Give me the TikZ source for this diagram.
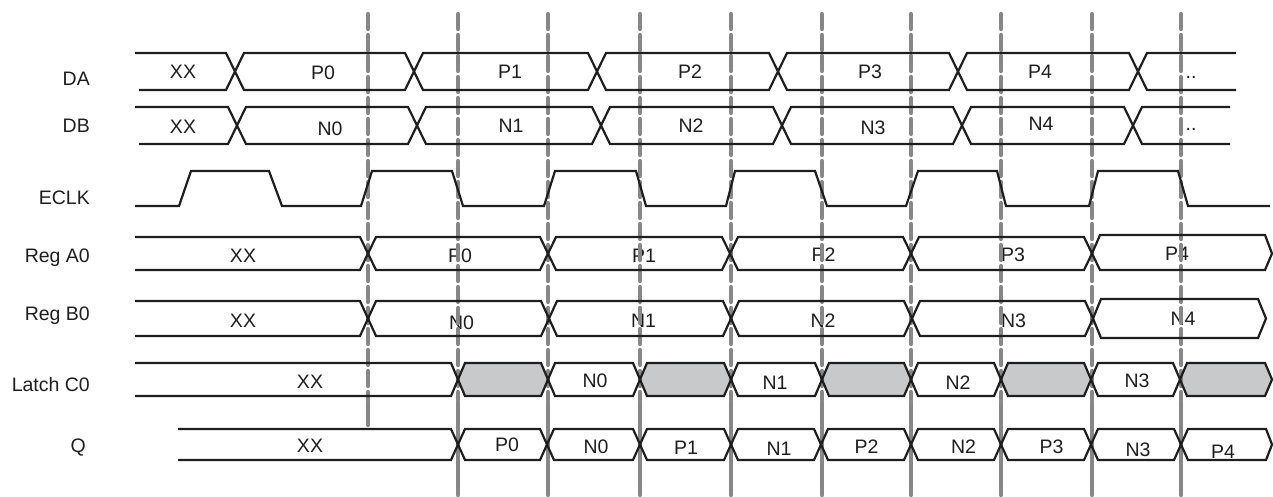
\documentclass[tikz,border=0pt]{standalone}
\usepackage{fontspec}
\setmainfont{Liberation Sans}
\definecolor{vgray}{RGB}{135,135,135}
\definecolor{latchgray}{RGB}{200,201,203}
\definecolor{ink}{RGB}{30,30,30}
\tikzset{
  sig/.style={line width=2.2pt, line join=miter, draw=ink},
  vline/.style={line width=4.3pt, draw=vgray, line cap=round},
  lbl/.style={inner sep=0pt, text height=14pt, text depth=0pt, text=ink,
              font=\fontsize{19.5}{22}\selectfont},
  rowlbl/.style={lbl, anchor=east}
}
\begin{document}
\begin{tikzpicture}[x=1pt,y=-1pt]
\path[use as bounding box] (0,0) rectangle (1273,497);

% ---------- shaded latch segments (fill) ----------
\def\T{363}\def\B{396}\def\M{379.5}\def\h{7}
\foreach \a/\b in {458/548,640/731,822/911,1001/1091}
  \fill[latchgray] (\a,\M) -- ({\a+\h},\T) -- ({\b-\h},\T) -- (\b,\M) -- ({\b-\h},\B) -- ({\a+\h},\B) -- cycle;
\fill[latchgray] (1180,\M) -- (1187,\T) -- (1265,\T) -- (1272,\M) -- (1265,\B) -- (1187,\B) -- cycle;

% ---------- row labels ----------
\node[rowlbl] (lDA) at (90,79) {DA};
\node[rowlbl] (lDB) at (90,126) {DB};
\node[rowlbl] (lECLK) at (90,197.5) {ECLK};
\node[rowlbl] (lRA) at (90,255) {Reg A0};
\node[rowlbl] (lRB) at (90,313.5) {Reg B0};
\node[rowlbl] (lLC) at (90,384) {Latch C0};
\node[rowlbl] (lQ) at (86,445) {Q};

% ---------- values ----------
\foreach \x/\y/\t [count=\i] in {
  183/72/XX, 323/72.5/P0, 510/71.5/P1, 690/72/P2, 870/72/P3, 1040/72/P4, 1191/72/..,
  183/127/XX, 330/128.5/N0, 511/125.5/N1, 691/125.5/N2, 873/127.5/N3, 1041/123.5/N4, 1191/124/..,
  243/255/XX, 460/255/P0, 644/255/P1, 823.5/254/P2, 1013/254/P3, 1177/253/P4,
  243/320/XX, 461.5/322/N0, 643.5/320/N1, 823/320/N2, 1013.5/320/N3, 1183/318/N4,
  310/381.5/XX, 595/380/N0, 775/382/N1, 958/382/N2, 1137/380/N3,
  310/445/XX, 507/444/P0, 596/446/N0, 686/447.5/P1, 779/448.5/N1, 866.5/446/P2,
  963.5/446/N2, 1051.5/446/P3, 1138/449/N3, 1223/451/P4}
  \node[lbl] (v\i) at (\x,\y) {\t};

% ---------- vertical reference lines ----------
\draw[vline, dash pattern=on 15pt off 6pt] (368,14) -- (368,400);
\draw[vline] (368,402) -- (368,425);
\foreach \x in {458,548,640,731,822,911,1001,1092,1181}{
  \draw[vline, dash pattern=on 15pt off 6pt] (\x,14) -- (\x,400);
  \draw[vline] (\x,402) -- (\x,495);
}

% ---------- DA ----------
\def\T{53}\def\B{90}\def\M{71.5}\def\h{9}
\draw[sig] (135,\T) -- (226,\T) -- (235,\M) -- (226,\B) -- (139,\B);
\foreach \a/\b in {235/414,414/597,597/778,778/958,958/1138}
  \draw[sig] (\a,\M) -- ({\a+\h},\T) -- ({\b-\h},\T) -- (\b,\M) -- ({\b-\h},\B) -- ({\a+\h},\B) -- cycle;
\draw[sig] (1236,\T) -- (1147,\T) -- (1138,\M) -- (1147,\B) -- (1236,\B);

% ---------- DB ----------
\def\T{107}\def\B{144}\def\M{125.5}
\draw[sig] (135,\T) -- (228,\T) -- (237,\M) -- (228,\B) -- (139,\B);
\foreach \a/\b in {237/417,417/601,601/782,782/962,962/1133}
  \draw[sig] (\a,\M) -- ({\a+\h},\T) -- ({\b-\h},\T) -- (\b,\M) -- ({\b-\h},\B) -- ({\a+\h},\B) -- cycle;
\draw[sig] (1230,\T) -- (1142,\T) -- (1133,\M) -- (1142,\B) -- (1230,\B);

% ---------- ECLK ----------
\draw[sig] (135,206) -- (179,206) -- (191,171) -- (269,171) -- (282,206)
  -- (361,206) -- (372,171) -- (452,171) -- (463,206)
  -- (544,206) -- (555,171) -- (636,171) -- (646,206)
  -- (726,206) -- (735,171) -- (815,171) -- (827,206)
  -- (906,206) -- (918,171) -- (997,171) -- (1006,206)
  -- (1089,206) -- (1098,171) -- (1178,171) -- (1188,206) -- (1270,206);

% ---------- Reg A0 ----------
\def\T{237}\def\B{270}\def\M{253.5}\def\h{8}
\draw[sig] (135,\T) -- (360,\T) -- (368,\M) -- (360,\B) -- (135,\B);
\foreach \a/\b in {368/548,548/730,730/911,911/1092}
  \draw[sig] (\a,\M) -- ({\a+\h},\T) -- ({\b-\h},\T) -- (\b,\M) -- ({\b-\h},\B) -- ({\a+\h},\B) -- cycle;
\draw[sig] (1092,\M) -- (1100,235) -- (1265,235) -- (1272,\M) -- (1265,\B) -- (1100,\B) -- cycle;

% ---------- Reg B0 ----------
\def\T{301}\def\B{336}\def\M{318.5}
\draw[sig] (135,\T) -- (360,\T) -- (368,\M) -- (360,\B) -- (135,\B);
\foreach \a/\b in {368/549,549/731,731/912,912/1093}
  \draw[sig] (\a,\M) -- ({\a+\h},\T) -- ({\b-\h},\T) -- (\b,\M) -- ({\b-\h},\B) -- ({\a+\h},\B) -- cycle;
\draw[sig] (1093,\M) -- (1101,299) -- (1258,299) -- (1266,\M) -- (1258,338) -- (1101,338) -- cycle;

% ---------- Latch C0 ----------
\def\T{363}\def\B{396}\def\M{379.5}\def\h{7}
\draw[sig] (135,\T) -- (451,\T) -- (458,\M) -- (451,\B) -- (135,\B);
\foreach \a/\b in {458/548,548/640,640/731,731/822,822/911,911/1001,1001/1091,1091/1180}
  \draw[sig] (\a,\M) -- ({\a+\h},\T) -- ({\b-\h},\T) -- (\b,\M) -- ({\b-\h},\B) -- ({\a+\h},\B) -- cycle;
\draw[sig] (1180,\M) -- (1187,\T) -- (1265,\T) -- (1272,\M) -- (1265,\B) -- (1187,\B) -- cycle;

% ---------- Q ----------
\def\T{429}\def\B{460}\def\M{444.5}
\draw[sig] (178,\T) -- (451,\T) -- (458,\M) -- (451,\B) -- (178,\B);
\foreach \a/\b in {458/547,547/640,640/731,731/821,821/911,911/1001,1001/1091,1091/1181}
  \draw[sig] (\a,\M) -- ({\a+\h},\T) -- ({\b-\h},\T) -- (\b,\M) -- ({\b-\h},\B) -- ({\a+\h},\B) -- cycle;
\draw[sig] (1181,\M) -- (1188,\T) -- (1266,\T) -- (1272,\M) -- (1266,\B) -- (1188,\B) -- cycle;
\end{tikzpicture}
\end{document}
